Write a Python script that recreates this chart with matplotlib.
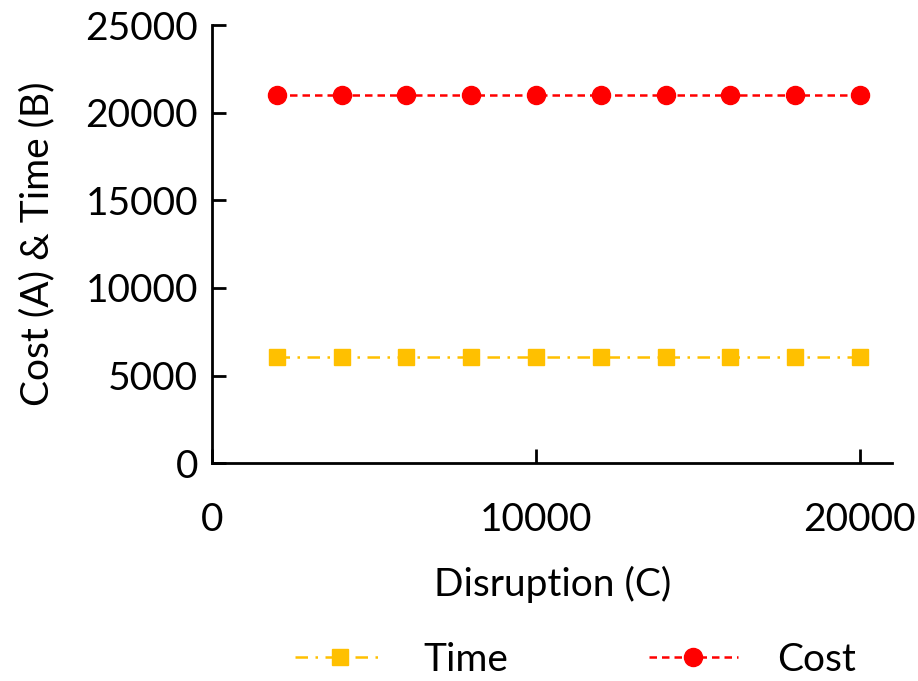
import numpy as np
import matplotlib
matplotlib.use("Agg")
import matplotlib.pyplot as plt

plt.rcParams['font.family'] = ['Lato', 'DejaVu Sans']

# dados
disrupcao = [2000, 4000, 6000, 8000, 10000, 12000, 14000, 16000, 18000, 20000]
custo = [21000] * 10
tempo = [6050] * 10

x_ticks = [0, 10000, 20000]
y_ticks = [0, 5000, 10000, 15000, 20000, 25000]

fig = plt.figure(figsize=(9.18, 6.81), dpi=100)
ax = fig.add_axes([0.231, 0.320, 0.741, 0.643])

ax.plot(disrupcao, tempo, color='#FFC000', linestyle=(0, (5, 3, 1, 3)), linewidth=1.8,
        marker='s', markersize=11, label='Time')
ax.plot(disrupcao, custo, color='#FF0000', linestyle=(0, (3, 2)), linewidth=1.8,
        marker='o', markersize=13, label='Cost')

ax.set_xlim(0, 21000)
ax.set_ylim(0, 25000)
ax.set_xticks(x_ticks)
ax.set_yticks(y_ticks)

for s in ['top', 'right']:
    ax.spines[s].set_visible(False)
for s in ['left', 'bottom']:
    ax.spines[s].set_linewidth(2)

ax.tick_params(axis='both', direction='in', length=10, width=2, labelsize=28)
ax.tick_params(axis='x', pad=28)
ax.tick_params(axis='y', pad=10)

ax.set_xlabel('Disruption (C)', fontsize=28, labelpad=20)
ax.set_ylabel('Cost (A) & Time (B)', fontsize=28, labelpad=22)

fig.legend(loc='center', bbox_to_anchor=(0.627, 0.031), ncol=2, frameon=False,
           fontsize=28, handlelength=2.3, handletextpad=1.0, columnspacing=3.6)

fig.savefig('out.png', dpi=100)
